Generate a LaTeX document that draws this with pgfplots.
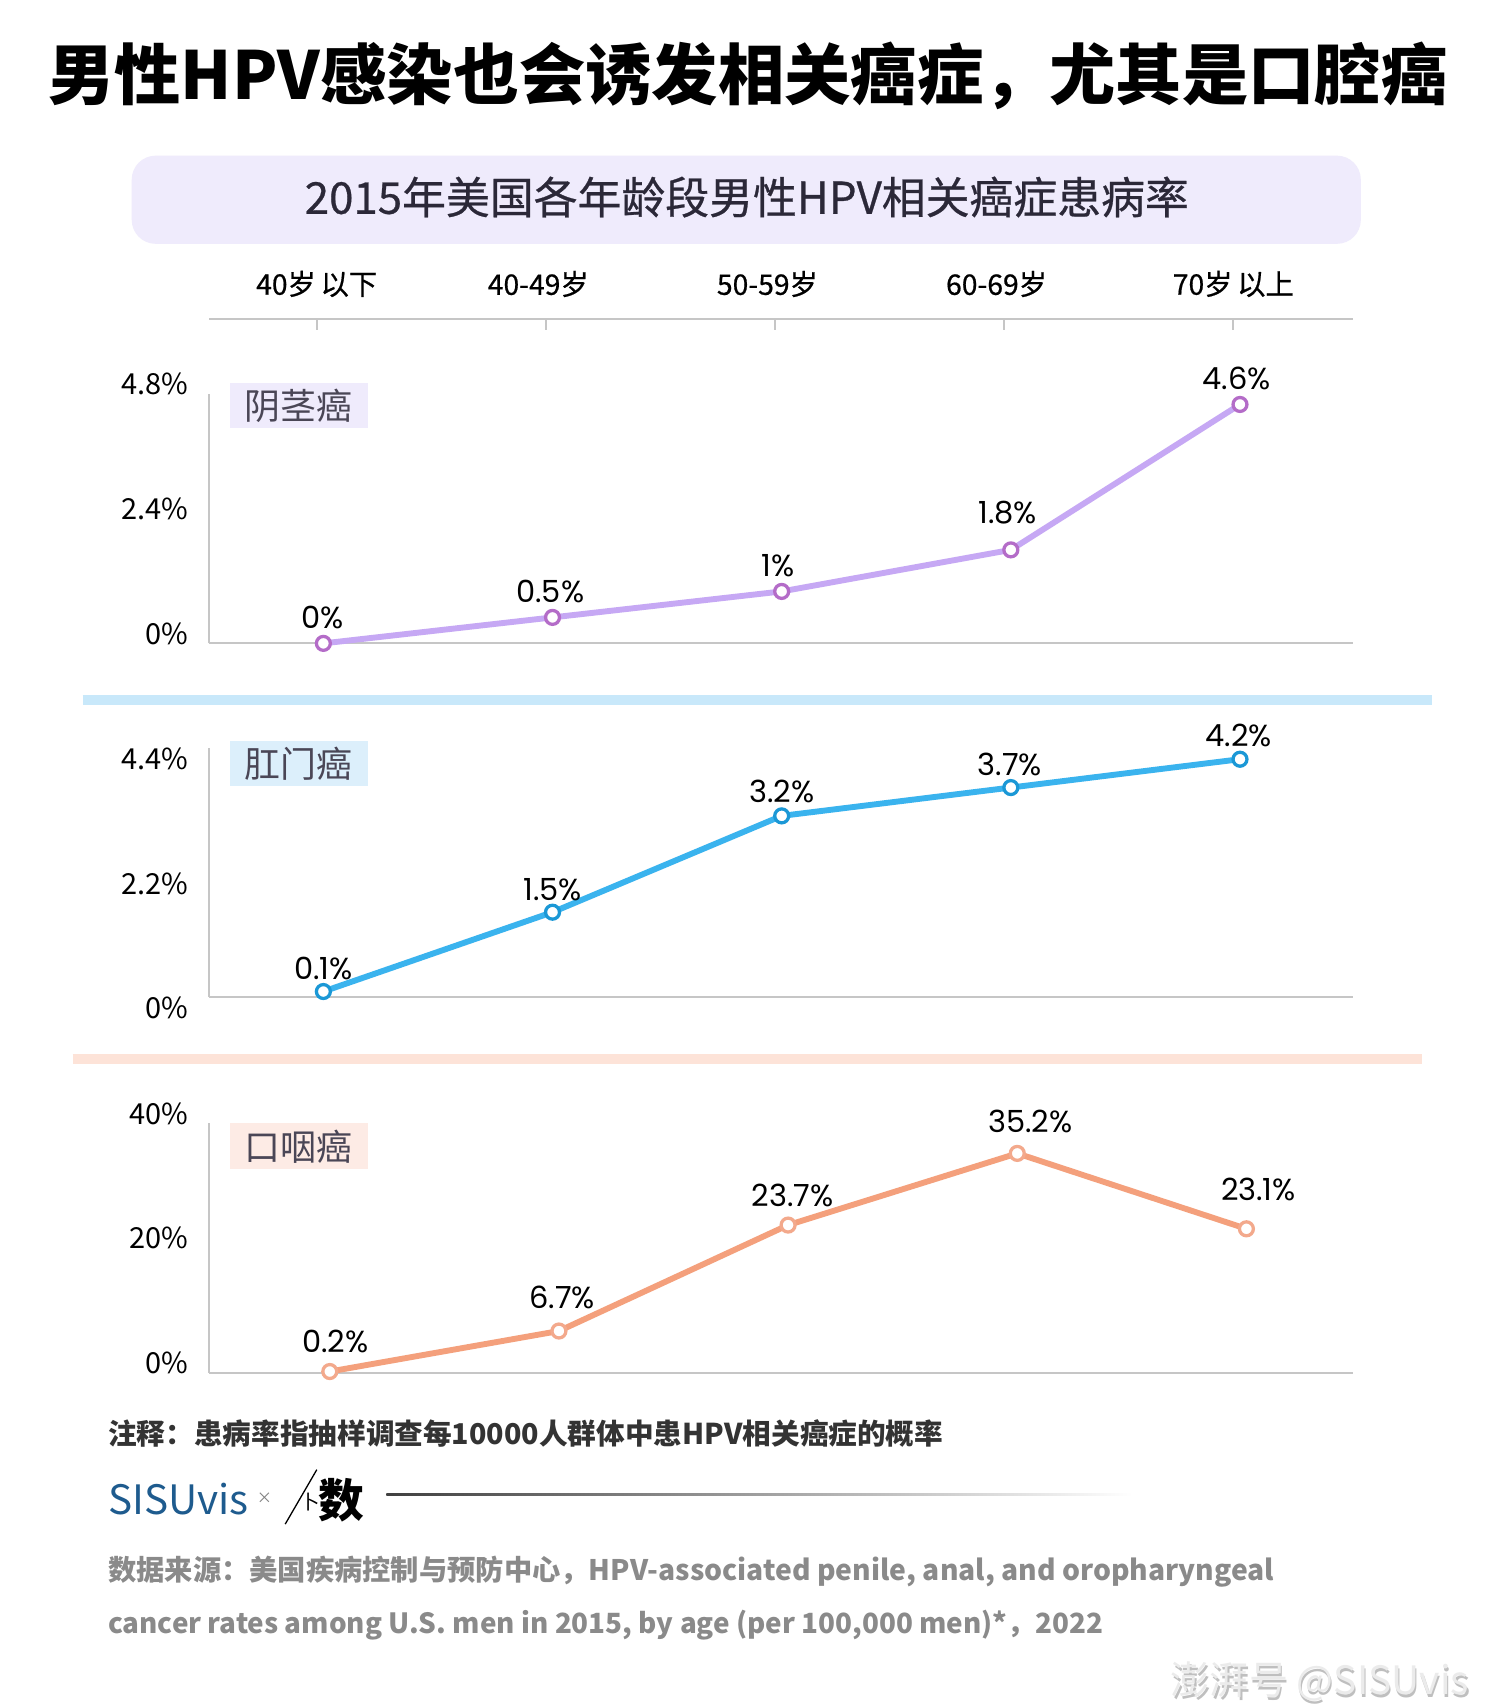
\documentclass[border=0pt]{standalone}
\usepackage{fontspec}
\setmainfont{Noto Sans CJK SC}
\newfontfamily\numfont{Poppins}
\newfontfamily\medfont[FakeBold=0.6]{Noto Sans CJK SC}
\usepackage{graphicx}
\usepackage{pgfplots}
\pgfplotsset{compat=1.18}

\definecolor{subbg}{HTML}{EFEBFC}
\definecolor{subtext}{HTML}{2B2838}
\definecolor{axisgray}{HTML}{C6C6C6}
\definecolor{lineA}{HTML}{C6A8F4}
\definecolor{markA}{HTML}{B46CC8}
\definecolor{boxA}{HTML}{EFEBFC}
\definecolor{lineB}{HTML}{3AB3EE}
\definecolor{markB}{HTML}{1B98D6}
\definecolor{boxB}{HTML}{DCEFFB}
\definecolor{sepB}{HTML}{C8E8FA}
\definecolor{lineC}{HTML}{F4A07C}
\definecolor{markC}{HTML}{F3A98C}
\definecolor{boxC}{HTML}{FDEBE5}
\definecolor{sepC}{HTML}{FDE3D8}
\definecolor{labtext}{HTML}{4A4656}
\definecolor{notetext}{HTML}{333333}
\definecolor{srctext}{HTML}{8A8A8A}
\definecolor{logoblue}{HTML}{1E5B8E}

\pgfplotsset{
  panel/.style={
    scale only axis, width=525.5pt, height=114.5pt,
    anchor=south west,
    axis x line=bottom, axis y line=left,
    axis line style={draw=axisgray, line width=1pt, -},
    xtick=\empty,
    major tick length=0pt,
    ytick style={draw=none},
    clip=false,
    yticklabel style={font=\fontsize{13.3}{13.3}\selectfont, text=black, inner sep=0pt, xshift=-9.5pt},
    ymin=0,
  },
  pl/.style={line width=2.7pt, color=#1, mark=*, mark size=3.2pt},
}
\tikzset{dl/.style={font=\numfont\fontsize{14}{14}\selectfont, text=black, inner sep=0pt}}
\newcommand{\padr}{\rule{7pt}{0pt}}

\begin{document}
\begin{tikzpicture}[x=0.5pt,y=0.5pt]
\useasboundingbox (0,0) rectangle (1371,1568);
\fill[white] (0,0) rectangle (1371,1568);

% Title
\node[inner sep=0pt] at (687,1498) {\resizebox{642.5pt}{!}{\bfseries 男性HPV感染也会诱发相关癌症，尤其是口腔癌}};

% Subtitle box
\fill[subbg, rounded corners=11pt] (121,1344) rectangle (1250,1425);
\node[inner sep=0pt, text=subtext] at (686,1387) {\resizebox{406pt}{!}{\medfont 2015年美国各年龄段男性HPV相关癌症患病率}};

% Top category axis
\begin{axis}[
  scale only axis, width=525.5pt, height=1pt,
  anchor=north west, at={(96pt,637.5pt)},
  xmin=-0.470, xmax=4.523, ymin=0, ymax=1,
  axis x line=top, axis y line=none,
  axis line style={draw=axisgray, line width=1pt, -},
  xtick={0,1,2,3,4},
  xticklabels={40岁\,以下,40-49岁\padr,50-59岁\padr,60-69岁\padr,70岁\,以上},
  tick align=inside,
  major tick length=5pt,
  xtick style={draw=axisgray, line width=0.8pt},
  xticklabel style={font=\medfont\fontsize{13}{13}\selectfont, text=black, yshift=6.5pt},
]
\end{axis}

% Panel 1
\begin{axis}[panel, at={(96pt,488.5pt)},
  xmin=-0.499, xmax=4.494, ymax=4.8,
  ytick={0,2.4,4.8}, yticklabels={0\%,2.4\%,4.8\%},
  yticklabel style={yshift=4.5pt},
]
\addplot[pl=lineA, mark options={fill=white, draw=markA, line width=1.5pt}]
  coordinates {(0,0) (1,0.5) (2,1) (3,1.8) (4,4.6)};
\node[dl, xshift=-0.5pt, yshift=12pt] at (axis cs:0,0) {0\%};
\node[dl, xshift=-1pt, yshift=12pt] at (axis cs:1,0.5) {0.5\%};
\node[dl, xshift=-1.5pt, yshift=12pt] at (axis cs:2,1) {1\%};
\node[dl, xshift=-1.5pt, yshift=17pt] at (axis cs:3,1.8) {1.8\%};
\node[dl, xshift=-1.5pt, yshift=12pt] at (axis cs:4,4.6) {4.6\%};
\end{axis}
\fill[boxA] (211,1175) rectangle (338,1216);
\node[text=labtext, font=\fontsize{16.5}{16.5}\selectfont] at (274.5,1195.5) {阴茎癌};

% separator blue
\draw[sepB, line width=4.5pt] (76,925) -- (1315,925);

% Panel 2
\begin{axis}[panel, at={(96pt,326pt)},
  xmin=-0.499, xmax=4.494, ymax=4.4,
  ytick={0,2.2,4.4}, yticklabels={0\%,2.2\%,4.4\%},
  yticklabel style={yshift=-5pt},
]
\addplot[pl=lineB, mark options={fill=white, draw=markB, line width=1.5pt}]
  coordinates {(0,0.1) (1,1.5) (2,3.2) (3,3.7) (4,4.2)};
\node[dl, yshift=10.5pt] at (axis cs:0,0.1) {0.1\%};
\node[dl, yshift=10.5pt] at (axis cs:1,1.5) {1.5\%};
\node[dl, yshift=11pt] at (axis cs:2,3.2) {3.2\%};
\node[dl, xshift=-0.5pt, yshift=10.5pt] at (axis cs:3,3.7) {3.7\%};
\node[dl, xshift=-0.5pt, yshift=11pt] at (axis cs:4,4.2) {4.2\%};
\end{axis}
\fill[boxB] (211,846) rectangle (338,887);
\node[text=labtext, font=\fontsize{16.5}{16.5}\selectfont] at (274.5,866.5) {肛门癌};

% separator peach
\draw[sepC, line width=4.5pt] (67,595) -- (1306,595);

% Panel 3
\begin{axis}[panel, at={(96pt,153.5pt)},
  xmin=-0.527, xmax=4.466, ymax=40,
  ytick={0,20,40}, yticklabels={0\%,20\%,40\%},
  yticklabel style={yshift=4.5pt},
]
\addplot[pl=lineC, mark options={fill=white, draw=markC, line width=1.5pt}]
  coordinates {(0,0.2) (1,6.7) (2,23.7) (3,35.2) (4,23.1)};
\node[dl, xshift=2.5pt, yshift=14pt] at (axis cs:0,0.2) {0.2\%};
\node[dl, xshift=1.5pt, yshift=15.5pt] at (axis cs:1,6.7) {6.7\%};
\node[dl, xshift=2pt, yshift=13.5pt] at (axis cs:2,23.7) {23.7\%};
\node[dl, xshift=6pt, yshift=14.5pt] at (axis cs:3,35.2) {35.2\%};
\node[dl, xshift=5.5pt, yshift=18pt] at (axis cs:4,23.1) {23.1\%};
\end{axis}
\fill[boxC] (211,494) rectangle (338,536);
\node[text=labtext, font=\fontsize{16.5}{16.5}\selectfont] at (274.5,515) {口咽癌};

% Footer note
\node[anchor=west, inner sep=0pt, text=notetext] at (99,251) {\resizebox{383.5pt}{!}{\bfseries 注释：患病率指抽样调查每10000人群体中患HPV相关癌症的概率}};

% Logo
\node[anchor=west, inner sep=0pt, text=logoblue] at (99,191) {\resizebox{64.5pt}{!}{SISUvis}};
\node[text=gray, font=\fontsize{7}{7}\selectfont] at (243,192) {×};
\draw[black, line width=0.6pt] (262,168) -- (291,218);
\node[inner sep=0pt, font=\fontsize{9}{9}\selectfont] at (285,188) {卜};
\node[inner sep=0pt, font=\bfseries\fontsize{21}{21}\selectfont] at (314,190) {数};
\shade[left color=black!75, right color=white] (355,194) rectangle (1040,196.5);

% Source
\node[anchor=west, inner sep=0pt, text=srctext] at (99,124) {\resizebox{535.5pt}{!}{\bfseries 数据来源：美国疾病控制与预防中心，HPV-associated penile, anal, and oropharyngeal}};
\node[anchor=west, inner sep=0pt, text=srctext] at (99,75) {\resizebox{457pt}{!}{\bfseries cancer rates among U.S. men in 2015, by age (per 100,000 men)*，2022}};

% Watermark
\node[anchor=east, inner sep=0pt, text=black!25] at (1351,21) {\resizebox{137pt}{!}{\itshape 澎湃号\ @SISUvis}};
\node[anchor=east, inner sep=0pt, text=black!8] at (1350,23) {\resizebox{137pt}{!}{\itshape 澎湃号\ @SISUvis}};
\end{tikzpicture}
\end{document}
